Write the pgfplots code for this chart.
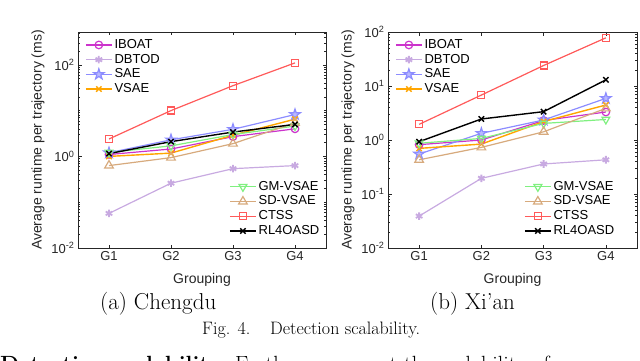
\documentclass[border=0pt]{standalone}
\usepackage{pgfplots}
\pgfplotsset{compat=1.18}
\usepackage{fontspec}
\setsansfont{Liberation Sans}

\definecolor{cIBOAT}{RGB}{204,51,204}
\definecolor{cDBTOD}{RGB}{200,170,225}
\definecolor{cSAE}{RGB}{140,140,255}
\definecolor{cVSAE}{RGB}{255,165,0}
\definecolor{cGM}{RGB}{128,240,128}
\definecolor{cSD}{RGB}{215,170,125}
\definecolor{cCTSS}{RGB}{255,90,90}
\definecolor{axgray}{RGB}{38,38,38}

% MATLAB-like pentagram marker
\pgfdeclareplotmark{pentagram}{%
  \pgfpathmoveto{\pgfpointpolar{90}{\pgfplotmarksize}}%
  \pgfpathlineto{\pgfpointpolar{126}{0.382\pgfplotmarksize}}%
  \pgfpathlineto{\pgfpointpolar{162}{\pgfplotmarksize}}%
  \pgfpathlineto{\pgfpointpolar{198}{0.382\pgfplotmarksize}}%
  \pgfpathlineto{\pgfpointpolar{234}{\pgfplotmarksize}}%
  \pgfpathlineto{\pgfpointpolar{270}{0.382\pgfplotmarksize}}%
  \pgfpathlineto{\pgfpointpolar{306}{\pgfplotmarksize}}%
  \pgfpathlineto{\pgfpointpolar{342}{0.382\pgfplotmarksize}}%
  \pgfpathlineto{\pgfpointpolar{18}{\pgfplotmarksize}}%
  \pgfpathlineto{\pgfpointpolar{54}{0.382\pgfplotmarksize}}%
  \pgfpathclose
  \pgfusepathqfillstroke
}

\pgfplotsset{
  sIBOAT/.style={cIBOAT, line width=1.2pt, mark=o, mark size=3.8pt},
  sDBTOD/.style={cDBTOD, line width=1.2pt, mark=asterisk, mark size=3.8pt, mark options={line width=1.8pt}},
  sSAE/.style={cSAE, line width=1.2pt, mark=pentagram, mark size=5.5pt, mark options={fill=cSAE!60}},
  sVSAE/.style={cVSAE, line width=1.4pt, mark=x, mark size=3.8pt},
  sGM/.style={cGM, line width=1.2pt, mark=triangle, mark size=4.5pt, mark options={rotate=180}},
  sSD/.style={cSD, line width=1.2pt, mark=triangle, mark size=5pt},
  sCTSS/.style={cCTSS, line width=1.2pt, mark=square, mark size=3.5pt},
  sRL/.style={black, line width=1.4pt, mark=x, mark size=3.8pt},
  myaxis/.style={
    scale only axis, height=216pt,
    xmin=0.5, xmax=4.5, ymin=0.01,
    xtick={1,2,3,4}, xticklabels={G1,G2,G3,G4},
    tick pos=both, tick align=inside,
    axis line style={axgray, line width=0.5pt},
    tick style={axgray, line width=0.5pt},
    major tick length=3.5pt, minor tick length=2pt,
    ticklabel style={font=\sffamily\fontsize{13}{13}\selectfont, text=axgray},
    xlabel={Grouping}, ylabel={Average runtime per trajectory (ms)},
    every axis x label/.style={at={(axis description cs:0.5,0)}, yshift=-32pt, anchor=center,
      font=\sffamily\fontsize{14}{14}\selectfont, text=axgray},
    every axis y label/.style={at={(axis description cs:-0.161,0.5)}, rotate=90, anchor=center,
      font=\sffamily\fontsize{14}{14}\selectfont, text=axgray},
    legend cell align=left,
    legend image code/.code={\draw[mark repeat=2,mark phase=2] plot coordinates {(0pt,0pt)(13pt,0pt)(26pt,0pt)};},
    legend style={draw=none, fill=none, inner sep=0pt,
      font=\sffamily\fontsize{13}{13}\selectfont,
      nodes={inner xsep=2pt, inner ysep=1.4pt, text height=9.3pt, text depth=2.6pt}},
  },
  myleg/.style={scale only axis, height=216pt, hide axis, xmin=0, xmax=1, ymin=0, ymax=1,
    legend cell align=left,
    legend image code/.code={\draw[mark repeat=2,mark phase=2] plot coordinates {(0pt,0pt)(13pt,0pt)(26pt,0pt)};},
    legend style={draw=none, fill=none, inner sep=0pt,
      font=\sffamily\fontsize{13}{13}\selectfont,
      nodes={inner xsep=2pt, inner ysep=1.4pt, text height=9.3pt, text depth=2.6pt}},
  },
}

\begin{document}
\begin{tikzpicture}[x=1pt,y=1pt]
\useasboundingbox (0,0) rectangle (640,-361);
\clip (0,0) rectangle (640,-361);

% ---------- (a) Chengdu ----------
\begin{axis}[ymode=log, myaxis, at={(78pt,-248pt)}, anchor=south west, width=248pt, ymax=520,
    ytick={0.01,1,100},
    yticklabels={10\textsuperscript{-2},10\textsuperscript{0},10\textsuperscript{2}},
    minor ytick={0.02,0.03,0.04,0.05,0.06,0.07,0.08,0.09,0.1,0.2,0.3,0.4,0.5,0.6,0.7,0.8,0.9,
      2,3,4,5,6,7,8,9,10,20,30,40,50,60,70,80,90,200,300,400,500},
    legend style={at={(0.028,0.975)}, anchor=north west}]
\addplot[sIBOAT] coordinates {(1,1.1) (2,1.45) (3,2.7) (4,4.0)};
\addlegendentry{IBOAT}
\addplot[sDBTOD] coordinates {(1,0.057) (2,0.26) (3,0.54) (4,0.63)};
\addlegendentry{DBTOD}
\addplot[sSAE] coordinates {(1,1.2) (2,2.3) (3,3.9) (4,8.2)};
\addlegendentry{SAE}
\addplot[sVSAE] coordinates {(1,1.0) (2,1.18) (3,2.9) (4,6.5)};
\addlegendentry{VSAE}
\addplot[sGM, forget plot] coordinates {(1,1.22) (2,1.7) (3,3.0) (4,4.6)};
\addplot[sSD, forget plot] coordinates {(1,0.63) (2,0.94) (3,1.9) (4,5.4)};
\addplot[sCTSS, forget plot] coordinates {(1,2.4) (2,10) (3,35) (4,110)};
\addplot[sRL, forget plot] coordinates {(1,1.15) (2,2.1) (3,3.4) (4,5.0)};
\end{axis}
\begin{axis}[myleg, at={(78pt,-248pt)}, anchor=south west, width=248pt,
    legend style={at={(0.609,0.044)}, anchor=south west}]
\addlegendimage{sGM}\addlegendentry{GM-VSAE}
\addlegendimage{sSD}\addlegendentry{SD-VSAE}
\addlegendimage{sCTSS}\addlegendentry{CTSS}
\addlegendimage{sRL}\addlegendentry{RL4OASD}
\end{axis}

% ---------- (b) Xi'an ----------
\begin{axis}[ymode=log, myaxis, at={(388pt,-248pt)}, anchor=south west, width=249pt, ymax=100,
    ytick={0.01,0.1,1,10,100},
    yticklabels={10\textsuperscript{-2},10\textsuperscript{-1},10\textsuperscript{0},10\textsuperscript{1},10\textsuperscript{2}},
    minor ytick={0.02,0.03,0.04,0.05,0.06,0.07,0.08,0.09,0.2,0.3,0.4,0.5,0.6,0.7,0.8,0.9,
      2,3,4,5,6,7,8,9,20,30,40,50,60,70,80,90},
    legend style={at={(0.028,0.975)}, anchor=north west}]
\addplot[sIBOAT] coordinates {(1,0.82) (2,1.0) (3,2.3) (4,3.3)};
\addlegendentry{IBOAT}
\addplot[sDBTOD] coordinates {(1,0.039) (2,0.195) (3,0.36) (4,0.43)};
\addlegendentry{DBTOD}
\addplot[sSAE] coordinates {(1,0.55) (2,1.33) (3,2.35) (4,5.9)};
\addlegendentry{SAE}
\addplot[sVSAE] coordinates {(1,0.70) (2,0.84) (3,2.2) (4,4.45)};
\addlegendentry{VSAE}
\addplot[sGM, forget plot] coordinates {(1,0.87) (2,1.07) (3,2.03) (4,2.4)};
\addplot[sSD, forget plot] coordinates {(1,0.43) (2,0.73) (3,1.42) (4,3.85)};
\addplot[sCTSS, forget plot] coordinates {(1,1.95) (2,6.8) (3,24) (4,78)};
\addplot[sRL, forget plot] coordinates {(1,0.93) (2,2.45) (3,3.35) (4,13)};
\end{axis}
\begin{axis}[myleg, at={(388pt,-248pt)}, anchor=south west, width=249pt,
    legend style={at={(0.546,0.044)}, anchor=south west}]
\addlegendimage{sGM}\addlegendentry{GM-VSAE}
\addlegendimage{sSD}\addlegendentry{SD-VSAE}
\addlegendimage{sCTSS}\addlegendentry{CTSS}
\addlegendimage{sRL}\addlegendentry{RL4OASD}
\end{axis}

% captions
\node[anchor=base west, inner sep=0pt, font=\fontsize{23}{23}\selectfont] at (100,-309) {(a) Chengdu};
\node[anchor=base west, inner sep=0pt, font=\fontsize{23}{23}\selectfont] at (430,-309) {(b) Xi'an};
\node[anchor=base west, inner sep=0pt, font=\fontsize{18}{18}\selectfont] at (202,-334) {Fig. 4.\hspace{1.1em}Detection scalability.};
\node[anchor=base west, inner sep=0pt, font=\fontsize{22}{22}\selectfont] at (0,-371) {\textbf{Detection scalability.} Further, we report the scalability of};
\end{tikzpicture}
\end{document}
